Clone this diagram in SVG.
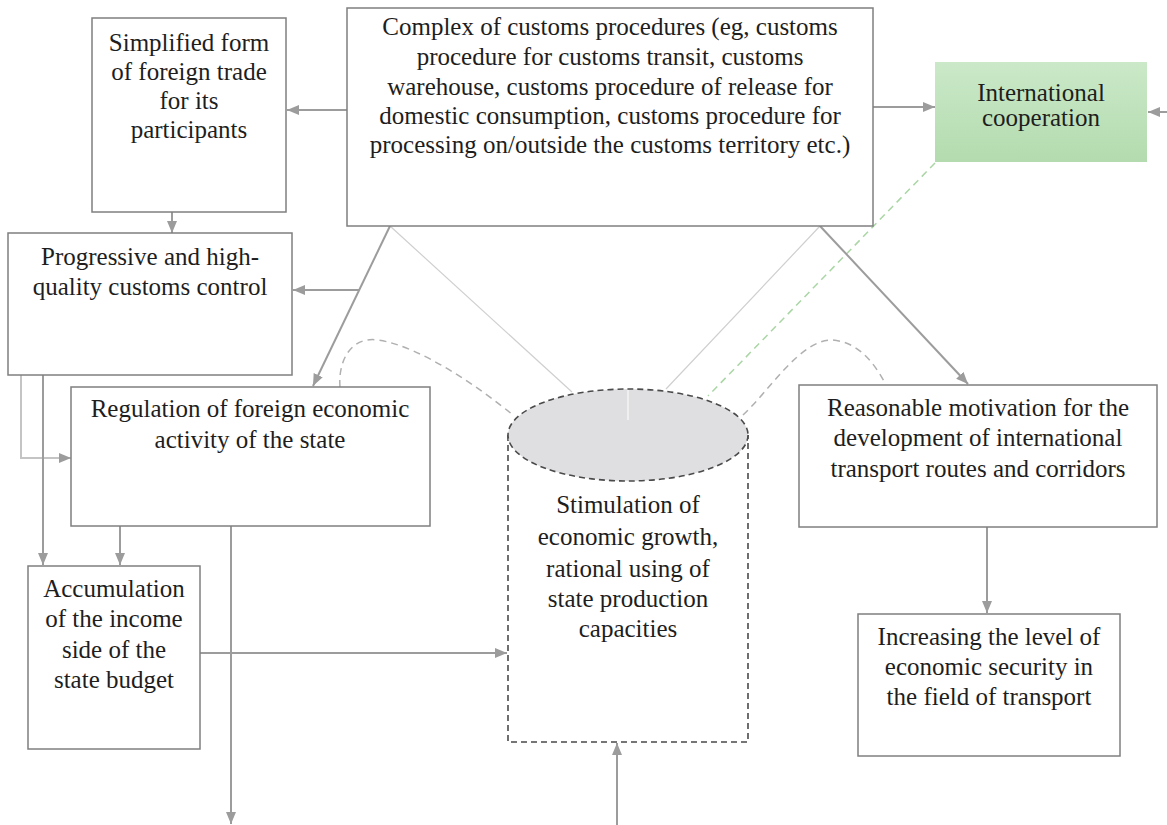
<svg xmlns="http://www.w3.org/2000/svg" width="1167" height="825" viewBox="0 0 1167 825">
<defs>
<linearGradient id="green" x1="0" y1="0" x2="0" y2="1">
<stop offset="0" stop-color="#cbe9c8"/>
<stop offset="1" stop-color="#b3dbaf"/>
</linearGradient>
<marker id="arr" viewBox="0 0 12 10" refX="12" refY="5" markerWidth="12" markerHeight="10" orient="auto" markerUnits="userSpaceOnUse">
<path d="M0,0 L12,5 L0,10 z" fill="#9c9c9c"/>
</marker>
</defs>
<style>
.box{fill:#fff;stroke:#7f7f7f;stroke-width:1.5}
.t{font-family:"Liberation Serif","Times New Roman",serif;font-size:25px;fill:#1e1e1e;text-anchor:middle}
.c{fill:none;stroke:#9c9c9c;stroke-width:2}
.thin{fill:none;stroke:#cfcfcf;stroke-width:1.2}
.dash{fill:none;stroke:#b0b0b0;stroke-width:1.5;stroke-dasharray:7 5}
.gdash{fill:none;stroke:#a9d6a4;stroke-width:1.5;stroke-dasharray:7 5}
.cyl{stroke:#4a4a4a;stroke-width:1.6;stroke-dasharray:6 4}
</style>
<rect width="1167" height="825" fill="#fff"/>

<g id="connectors">
<line class="thin" x1="390" y1="226" x2="572" y2="392"/>
<line class="thin" x1="820" y1="226" x2="666" y2="389"/>
<line class="gdash" x1="935" y1="163" x2="708" y2="396"/>
<path class="dash" d="M340,387 C338,362 350,336 378,340 C420,346 480,388 513,415"/>
<path class="dash" d="M743,415 C770,390 800,340 832,340 C860,342 875,365 885,383"/>
<path class="c" d="M347,110 L287,110" marker-end="url(#arr)"/>
<path class="c" d="M873,107 L935,107" marker-end="url(#arr)"/>
<path class="c" d="M1167,112 L1148,112" marker-end="url(#arr)"/>
<path class="c" d="M172,212 L172,233" marker-end="url(#arr)"/>
<path class="c" d="M390,226 L313,386" marker-end="url(#arr)"/>
<path class="c" d="M359,290 L293,290" marker-end="url(#arr)"/>
<path class="c" d="M820,226 L968,384" marker-end="url(#arr)"/>
<path class="c" d="M21,375 L21,458 L71,458" marker-end="url(#arr)" style="stroke:#c4c4c4"/>
<path class="c" d="M43,375 L43,565" marker-end="url(#arr)"/>
<path class="c" d="M120,526 L120,565" marker-end="url(#arr)"/>
<path class="c" d="M231,526 L231,824" marker-end="url(#arr)"/>
<path class="c" d="M200,653 L507,653" marker-end="url(#arr)"/>
<path class="c" d="M617,825 L617,743" marker-end="url(#arr)"/>
<path class="c" d="M987,527 L987,613" marker-end="url(#arr)"/>
</g>

<g id="simplified">
<rect class="box" x="92" y="18" width="194" height="194"/>
<text class="t" x="189" y="51">Simplified form</text>
<text class="t" x="189" y="80">of foreign trade</text>
<text class="t" x="189" y="109">for its</text>
<text class="t" x="189" y="138">participants</text>
</g>

<g id="complex">
<rect class="box" x="347" y="8" width="526" height="218"/>
<text class="t" x="610" y="35">Complex of customs procedures (eg, customs</text>
<text class="t" x="610" y="65">procedure for customs transit, customs</text>
<text class="t" x="610" y="95">warehouse, customs procedure of release for</text>
<text class="t" x="610" y="124">domestic consumption, customs procedure for</text>
<text class="t" x="610" y="153">processing on/outside the customs territory etc.)</text>
</g>

<g id="international">
<rect x="935" y="62" width="212" height="100" fill="url(#green)"/>
<text class="t" x="1041" y="101">International</text>
<text class="t" x="1041" y="126">cooperation</text>
</g>

<g id="progressive">
<rect class="box" x="8" y="233" width="284" height="142"/>
<text class="t" x="150" y="265">Progressive and high-</text>
<text class="t" x="150" y="295">quality customs control</text>
</g>

<g id="regulation">
<rect class="box" x="71" y="387" width="359" height="139"/>
<text class="t" x="250" y="417">Regulation of foreign economic</text>
<text class="t" x="250" y="448">activity of the state</text>
</g>

<g id="accumulation">
<rect class="box" x="28" y="566" width="172" height="183"/>
<text class="t" x="114" y="597">Accumulation</text>
<text class="t" x="114" y="627">of the income</text>
<text class="t" x="114" y="658">side of the</text>
<text class="t" x="114" y="688">state budget</text>
</g>

<g id="stimulation">
<path class="cyl" d="M508,435 L508,742 L748,742 L748,435" fill="#fff"/>
<ellipse class="cyl" cx="628" cy="435" rx="120" ry="46" fill="#dfdee1"/>
<line x1="628" y1="390" x2="628" y2="420" stroke="#fff" stroke-width="1"/>
<text class="t" x="628" y="513">Stimulation of</text>
<text class="t" x="628" y="545">economic growth,</text>
<text class="t" x="628" y="577">rational using of</text>
<text class="t" x="628" y="607">state production</text>
<text class="t" x="628" y="637">capacities</text>
</g>

<g id="reasonable">
<rect class="box" x="799" y="385" width="358" height="142"/>
<text class="t" x="978" y="416">Reasonable motivation for the</text>
<text class="t" x="978" y="446">development of international</text>
<text class="t" x="978" y="477">transport routes and corridors</text>
</g>

<g id="increasing">
<rect class="box" x="858" y="614" width="262" height="142"/>
<text class="t" x="989" y="645">Increasing the level of</text>
<text class="t" x="989" y="675">economic security in</text>
<text class="t" x="989" y="705">the field of transport</text>
</g>
</svg>
